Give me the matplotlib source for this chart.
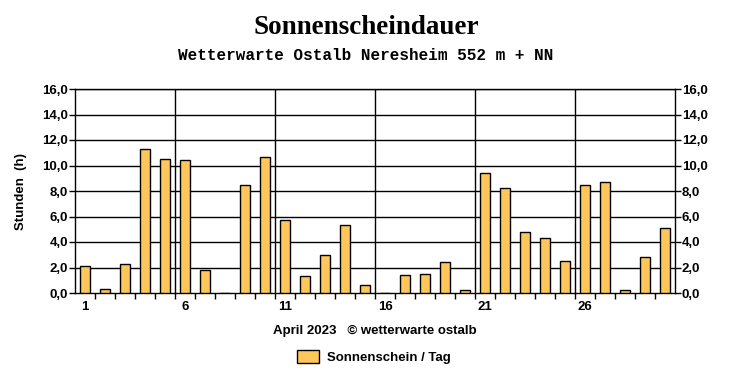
import matplotlib
matplotlib.use("Agg")
import matplotlib.pyplot as plt
import numpy as np
from matplotlib.patches import Patch
from matplotlib.font_manager import FontProperties

# daily sunshine hours, April 2023
days = list(range(1, 31))
sunshine = [2.1, 0.3, 2.3, 11.3, 10.5, 10.4, 1.8, 0.0, 8.5, 10.7,
            5.7, 1.3, 3.0, 5.3, 0.6, 0.0, 1.4, 1.5, 2.4, 0.2,
            9.4, 8.2, 4.8, 4.3, 2.5, 8.5, 8.7, 0.2, 2.8, 5.1]
xlabels = ["1", "6", "11", "16", "21", "26"]
yticks = [0, 2, 4, 6, 8, 10, 12, 14, 16]

bar_color = "#FFC65C"
lab_font = dict(family="Liberation Sans", weight="bold", size=9.5)

fig = plt.figure(figsize=(7.32, 3.80), dpi=100)
ax = fig.add_axes([75 / 732, 87 / 380, 600 / 732, 204 / 380])

ax.bar(days, sunshine, width=0.5, color=bar_color, edgecolor="black",
       linewidth=1, zorder=3)

ax.set_xlim(0.5, 30.5)
ax.set_ylim(0, 16)

# horizontal grid
for y in yticks[1:]:
    ax.axhline(y, color="black", lw=1, zorder=1)
# vertical grid every 5 days
for x in [5.5, 10.5, 15.5, 20.5, 25.5]:
    ax.axvline(x, color="black", lw=1, zorder=1)

ax.set_yticks(yticks)
ax.yaxis.set_major_formatter(matplotlib.ticker.FuncFormatter(
    lambda v, p: ("%.1f" % v).replace(".", ",")))
ax.tick_params(axis="y", direction="out", length=4, width=1, pad=1,
               right=True, labelright=True)
for t in ax.yaxis.get_major_ticks():
    t.label1.set_fontproperties(FontProperties(**lab_font))
    t.label2.set_fontproperties(FontProperties(**lab_font))

ax.set_xticks([1, 6, 11, 16, 21, 26])
ax.set_xticklabels(xlabels, **lab_font)
ax.set_xticks(np.arange(1.5, 30.5, 1.0), minor=True)
ax.tick_params(axis="x", which="major", length=0, pad=6)
ax.tick_params(axis="x", which="minor", direction="out", length=4, width=1)

for sp in ax.spines.values():
    sp.set_linewidth(1)

ax.set_ylabel("Stunden  (h)", labelpad=11, **lab_font)

fig.text(0.5, 1 - 27 / 380, "Sonnenscheindauer", ha="center", va="center",
         family="Liberation Serif", weight="bold", size=19.5)
fig.text(0.5, 1 - 55 / 380, "Wetterwarte Ostalb Neresheim 552 m + NN",
         ha="center", va="center", family="Liberation Mono", weight="bold",
         size=11.5)
fig.text(375 / 732, 1 - 331 / 380, "April 2023   \u00a9 wetterwarte ostalb",
         ha="center", va="center", **lab_font)

fig.legend(handles=[Patch(facecolor=bar_color, edgecolor="black",
                          label="Sonnenschein / Tag")],
           loc="center", bbox_to_anchor=(374 / 732, 1 - 357 / 380),
           frameon=False, prop=FontProperties(**lab_font),
           handlelength=1.7, handleheight=1.1, handletextpad=0.6)

fig.savefig("out.png", dpi=100)
